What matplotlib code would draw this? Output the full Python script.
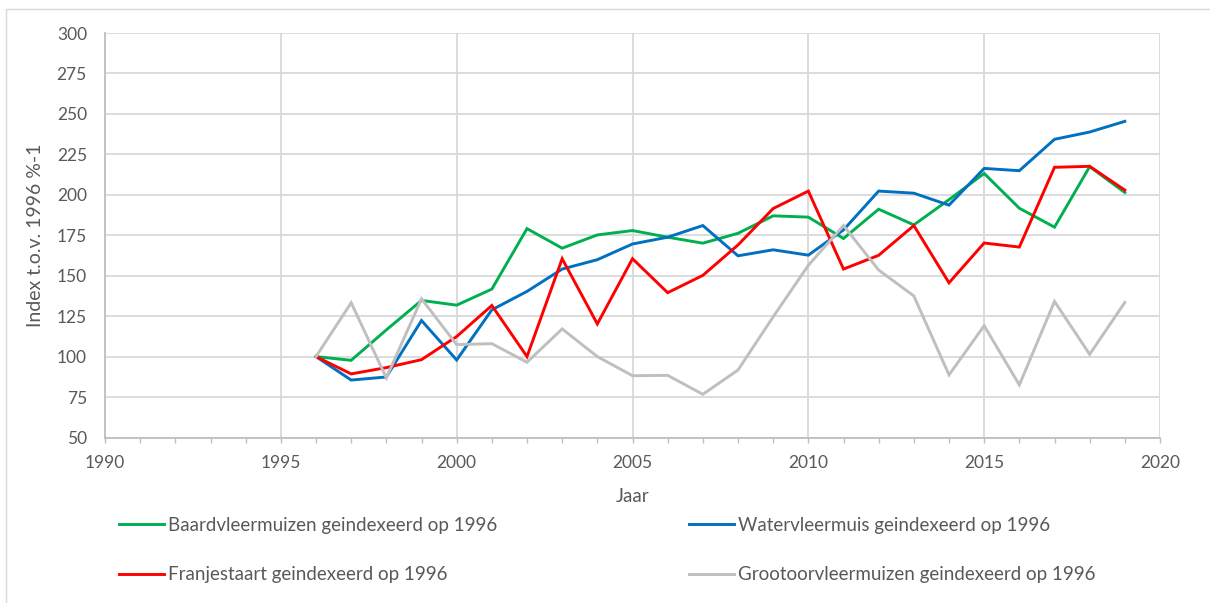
import matplotlib
matplotlib.use("Agg")
import matplotlib.pyplot as plt
import matplotlib.ticker as mticker
from matplotlib.patches import Rectangle

plt.rcParams["font.family"] = ["Lato", "DejaVu Sans"]

# Data (index t.o.v. 1996)
jaren = list(range(1996, 2020))

baard = [100, 97.7, 116.5, 134.7, 131.8, 141.7, 179.1, 167.0, 175.2, 177.9,
         173.8, 170.1, 176.2, 187.0, 186.2, 173.0, 191.1, 181.4, 197.0, 213.2,
         191.7, 180.0, 217.4, 201.4]
water = [100, 85.5, 87.4, 122.3, 97.9, 128.9, 140.3, 154.1, 159.9, 169.6,
         173.8, 181.0, 162.3, 166.0, 162.7, 178.3, 202.3, 201.0, 193.6, 216.3,
         214.9, 234.3, 238.8, 245.4]
franje = [100, 89.3, 93.2, 98.1, 112.4, 131.6, 100.0, 160.5, 120.2, 160.5,
          139.5, 150.2, 169.0, 191.5, 202.3, 154.1, 162.6, 181.0, 145.6, 170.2,
          167.7, 217.0, 217.6, 202.9]
grootoor = [100, 133.3, 86.8, 135.7, 107.4, 108.0, 96.5, 117.1, 100.0, 88.2,
            88.4, 76.7, 91.7, 124.6, 156.4, 181.0, 153.5, 137.5, 88.7, 119.1,
            82.5, 134.1, 101.4, 133.5]

labels = ["Baardvleermuizen geindexeerd op 1996",
          "Watervleermuis geindexeerd op 1996",
          "Franjestaart geindexeerd op 1996",
          "Grootoorvleermuizen geindexeerd op 1996"]
colors = ["#00B050", "#0070C0", "#FF0000", "#BFBFBF"]

TXT = "#595959"
GRID = "#D9D9D9"

fig = plt.figure(figsize=(12.1, 6.03), dpi=100, facecolor="white")
fig.patches.append(Rectangle((6 / 1210, -0.01), 1.0, 1 - 9 / 603 + 0.01,
                             transform=fig.transFigure, fill=False,
                             edgecolor=GRID, linewidth=1.0))

ax = fig.add_axes([105 / 1210, 1 - 437.5 / 603, (1160 - 105) / 1210, (437.5 - 33) / 603])

handles = []
for serie, kleur, lab in zip([baard, water, franje, grootoor], colors, labels):
    h, = ax.plot(jaren, serie, color=kleur, linewidth=2.1, label=lab,
                 solid_joinstyle="miter", zorder=3)
    handles.append(h)

ax.set_xlim(1990, 2020)
ax.set_ylim(50, 300)
ax.xaxis.set_major_locator(mticker.MultipleLocator(5))
ax.xaxis.set_minor_locator(mticker.MultipleLocator(1))
ax.yaxis.set_major_locator(mticker.MultipleLocator(25))

ax.grid(True, which="major", color=GRID, linewidth=1.3, zorder=0)
ax.set_axisbelow(True)
for s in ["top", "right"]:
    ax.spines[s].set_visible(False)
for s in ["left", "bottom"]:
    ax.spines[s].set_color("#BFBFBF")
    ax.spines[s].set_linewidth(1.3)

ax.tick_params(axis="y", length=0, pad=13, labelsize=12.5, labelcolor=TXT)
ax.tick_params(axis="x", which="both", direction="out", length=3.5, width=1,
               color="#BFBFBF", pad=9, labelsize=12.5, labelcolor=TXT)

ax.set_xlabel("Jaar", fontsize=13.5, color=TXT, labelpad=12)
ax.set_ylabel("Index t.o.v. 1996 %-1", fontsize=14, color=TXT, labelpad=9)

# legend in twee kolommen
leg_kw = dict(frameon=False, fontsize=13.5, labelcolor=TXT, handlelength=2.4,
              handletextpad=0.2, labelspacing=1.72, borderaxespad=0,
              borderpad=0, loc="upper left")
fig.legend([handles[0], handles[2]], [labels[0], labels[2]],
           bbox_to_anchor=(119 / 1210, 1 - 517 / 603), **leg_kw)
fig.legend([handles[1], handles[3]], [labels[1], labels[3]],
           bbox_to_anchor=(689 / 1210, 1 - 517 / 603), **leg_kw)

fig.savefig("out.png", dpi=100, facecolor="white")
